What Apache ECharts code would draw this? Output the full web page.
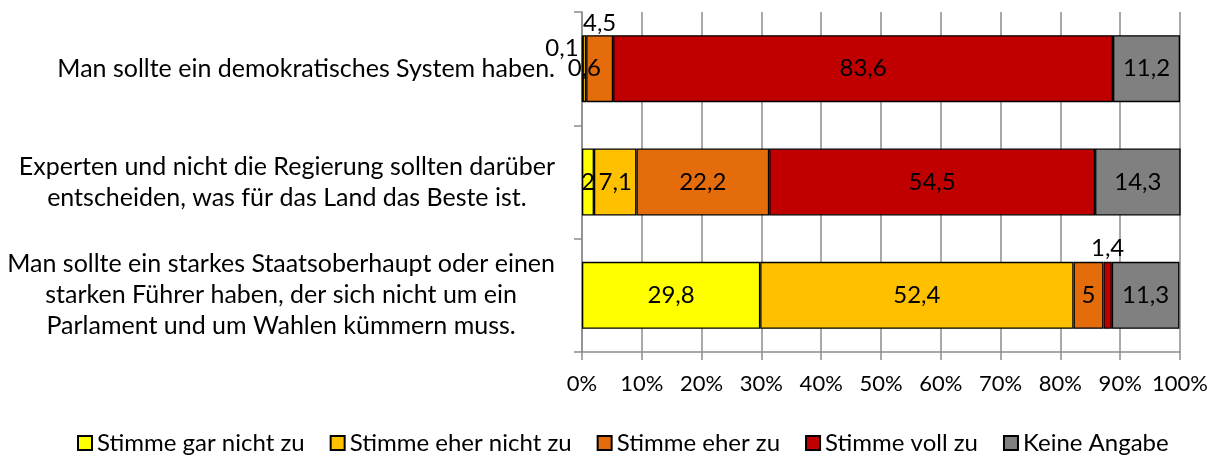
<!DOCTYPE html>
<html>
<head>
<meta charset="utf-8">
<script src="https://cdn.jsdelivr.net/npm/echarts@6/dist/echarts.min.js"></script>
<style>
  html, body { margin: 0; padding: 0; background: #fff; }
  #chart { width: 1219px; height: 455px; }
</style>
</head>
<body>
<div id="chart"></div>
<script>
// Kategorien von oben nach unten
const categories = [
  'Man sollte ein demokratisches System haben.',
  'Experten und nicht die Regierung sollten darüber\nentscheiden, was für das Land das Beste ist.',
  'Man sollte ein starkes Staatsoberhaupt oder einen\nstarken Führer haben, der sich nicht um ein\nParlament und um Wahlen kümmern muss.'
]

const seriesNames = ['Stimme gar nicht zu', 'Stimme eher nicht zu', 'Stimme eher zu', 'Stimme voll zu', 'Keine Angabe']

const garNichtZu = [0.1, 2, 29.8]
const eherNichtZu = [0.6, 7.1, 52.4]
const eherZu = [4.5, 22.2, 5]
const vollZu = [83.6, 54.5, 1.4]
const keineAngabe = [11.2, 14.3, 11.3]

const xTicks = [0, 100, 10]

const seriesValues = [garNichtZu, eherNichtZu, eherZu, vollZu, keineAngabe]
const colors = ['#ffff00', '#ffc000', '#e46c0a', '#c00000', '#808080']

const FONT = 'Lato'
const FS = 22

// kleine Segmente: Beschriftung außerhalb
function labelFor(si, di) {
  if (si === 0 && di === 0) return { position: 'left', offset: [2, -20] }
  if (si === 2 && di === 0) return { position: 'top', distance: 0 }
  if (si === 3 && di === 2) return { position: 'top', distance: 2 }
  return null
}

const chart = echarts.init(document.getElementById('chart'))

const series = seriesNames.map((name, si) => ({
  name: name,
  type: 'bar',
  stack: 'total',
  barWidth: 67,
  itemStyle: { color: colors[si], borderColor: '#000', borderWidth: 1.3 },
  label: {
    show: true,
    position: 'inside',
    color: '#000',
    fontFamily: FONT,
    fontSize: 24,
    formatter: p => String(p.value).replace('.', ',')
  },
  emphasis: { disabled: true },
  data: seriesValues[si].map((v, di) => {
    const l = labelFor(si, di)
    return l ? { value: v, label: l } : v
  })
}))

chart.setOption({
  animation: false,
  textStyle: { fontFamily: FONT },
  grid: { left: 582, right: 39, top: 12, bottom: 103 },
  legend: {
    top: 426,
    left: 72,
    itemWidth: 14,
    itemHeight: 14,
    itemGap: 25,
    icon: 'rect',
    textStyle: { color: '#000', fontFamily: FONT, fontSize: 24 },
    data: seriesNames
  },
  xAxis: {
    type: 'value',
    min: xTicks[0],
    max: xTicks[1],
    interval: xTicks[2],
    axisLine: { show: true, lineStyle: { color: '#8c8c8c', width: 1.5 } },
    axisTick: { show: true, length: 8, lineStyle: { color: '#8c8c8c', width: 1.5 } },
    splitLine: { show: true, lineStyle: { color: '#8c8c8c', width: 1.5 } },
    axisLabel: {
      color: '#000',
      fontFamily: FONT,
      fontSize: FS,
      margin: 21,
      formatter: '{value}%'
    }
  },
  yAxis: {
    type: 'category',
    inverse: true,
    data: categories,
    axisLine: { show: true, lineStyle: { color: '#8c8c8c', width: 1.5 } },
    axisTick: { show: true, length: 8, lineStyle: { color: '#8c8c8c', width: 1.5 } },
    axisLabel: {
      color: '#000',
      margin: 27,
      formatter: v => v.split('\n').map(l => '{c|' + l + '}').join('\n'),
      rich: {
        c: { align: 'center', fontFamily: FONT, fontSize: 25, lineHeight: 31, color: '#000' }
      }
    }
  },
  series: series
})

window.addEventListener('resize', () => chart.resize())
</script>
</body>
</html>
